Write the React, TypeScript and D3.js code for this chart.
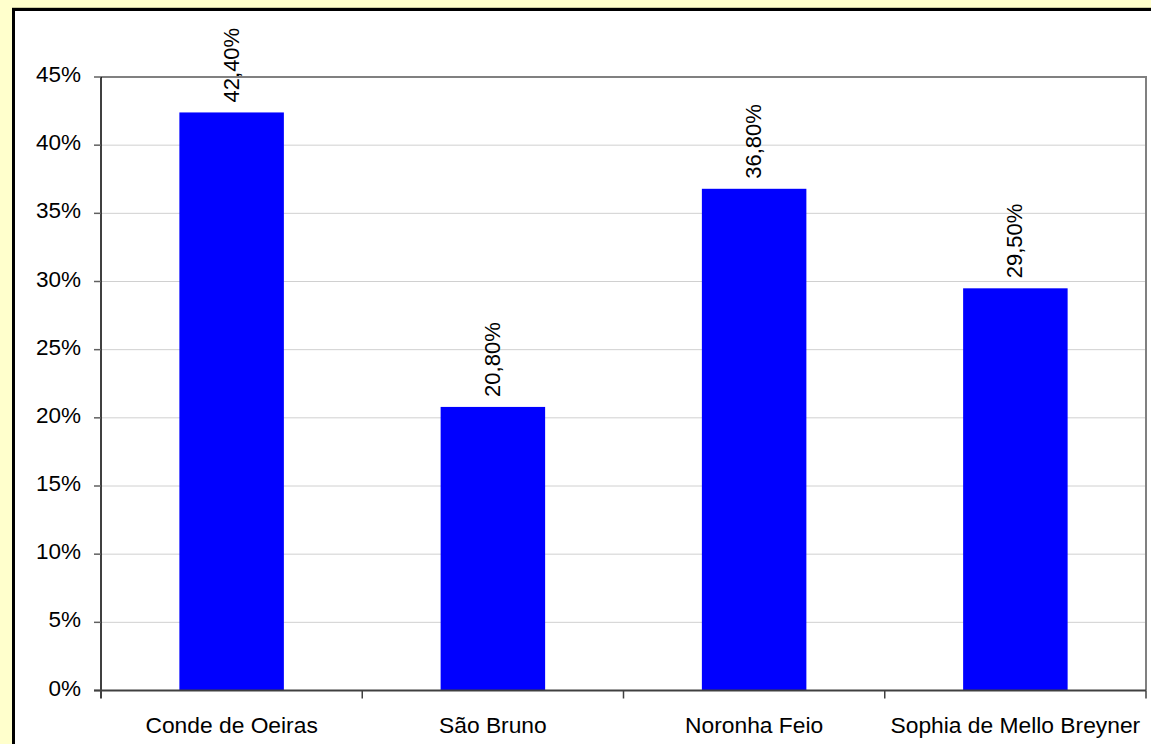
import React from "react";
import * as d3 from "d3";

const categories = ["Conde de Oeiras", "São Bruno", "Noronha Feio", "Sophia de Mello Breyner"];
const values = [42.4, 20.8, 36.8, 29.5];
const valueLabels = ["42,40%", "20,80%", "36,80%", "29,50%"];
const yTicks = [0, 5, 10, 15, 20, 25, 30, 35, 40, 45];

const W = 1151;
const H = 744;
const plot = { left: 101, right: 1146, top: 77, bottom: 690.5 };
const FONT = "Arial, 'Liberation Sans', Helvetica, sans-serif";

export default function App() {
  const x = d3
    .scaleBand<string>()
    .domain(categories)
    .range([plot.left, plot.right])
    .paddingInner(0.6)
    .paddingOuter(0.3);
  const band = d3.scaleBand<string>().domain(categories).range([plot.left, plot.right]);
  const y = d3.scaleLinear().domain([0, 45]).range([plot.bottom, plot.top]);

  return (
    <svg
      width={W}
      height={H}
      style={{ position: "fixed", left: 0, top: 0, display: "block" }}
      fontFamily={FONT}
    >
      <rect x={0} y={0} width={W} height={H} fill="#FFFFCC" />
      <rect x={12} y={7} width={W + 20} height={H + 20} fill="#808060" opacity={0.4} />
      <rect x={13.5} y={9.5} width={W + 20} height={H + 20} fill="#FFFFFF" stroke="#000000" strokeWidth={3} />

      {/* gridlines */}
      {yTicks.slice(1, -1).map((t) => (
        <line key={"g" + t} x1={plot.left} x2={plot.right} y1={y(t)} y2={y(t)} stroke="#D0D0D0" strokeWidth={1} />
      ))}
      {/* plot border top/right */}
      <line x1={plot.left} x2={plot.right + 1} y1={plot.top} y2={plot.top} stroke="#808080" strokeWidth={2} />
      <line x1={plot.right} x2={plot.right} y1={plot.top} y2={plot.bottom} stroke="#808080" strokeWidth={2} />

      {/* bars */}
      {categories.map((c, i) => (
        <rect
          key={c}
          x={x(c)}
          y={y(values[i])}
          width={x.bandwidth()}
          height={plot.bottom - y(values[i])}
          fill="#0000FF"
        />
      ))}

      {/* value labels */}
      {categories.map((c, i) => {
        const cx = (x(c) as number) + x.bandwidth() / 2;
        const ty = y(values[i]) - 10;
        return (
          <text
            key={"v" + c}
            transform={`translate(${cx},${ty}) rotate(-90)`}
            dy={7}
            fontSize={22}
            textAnchor="start"
            fill="#000"
          >
            {valueLabels[i]}
          </text>
        );
      })}

      {/* y axis */}
      <line x1={plot.left} x2={plot.left} y1={plot.top} y2={plot.bottom + 8} stroke="#000" strokeWidth={1.5} />
      {yTicks.map((t) => (
        <g key={"t" + t}>
          <line x1={plot.left - 7} x2={plot.left} y1={y(t)} y2={y(t)} stroke="#606060" strokeWidth={1.5} />
          <text x={81} y={y(t)} dy={5} textAnchor="end" fontSize={22.5} fill="#000">
            {t}%
          </text>
        </g>
      ))}

      {/* x axis */}
      <line x1={plot.left - 7} x2={plot.right} y1={plot.bottom} y2={plot.bottom} stroke="#404040" strokeWidth={2} />
      {categories.map((c) => (
        <line
          key={"xt" + c}
          x1={(band(c) as number) + band.bandwidth()}
          x2={(band(c) as number) + band.bandwidth()}
          y1={plot.bottom}
          y2={plot.bottom + 8}
          stroke="#404040"
          strokeWidth={1.5}
        />
      ))}
      {categories.map((c) => (
        <text
          key={"xl" + c}
          x={(band(c) as number) + band.bandwidth() / 2}
          y={733}
          textAnchor="middle"
          fontSize={22.8}
          fill="#000"
        >
          {c}
        </text>
      ))}
    </svg>
  );
}
